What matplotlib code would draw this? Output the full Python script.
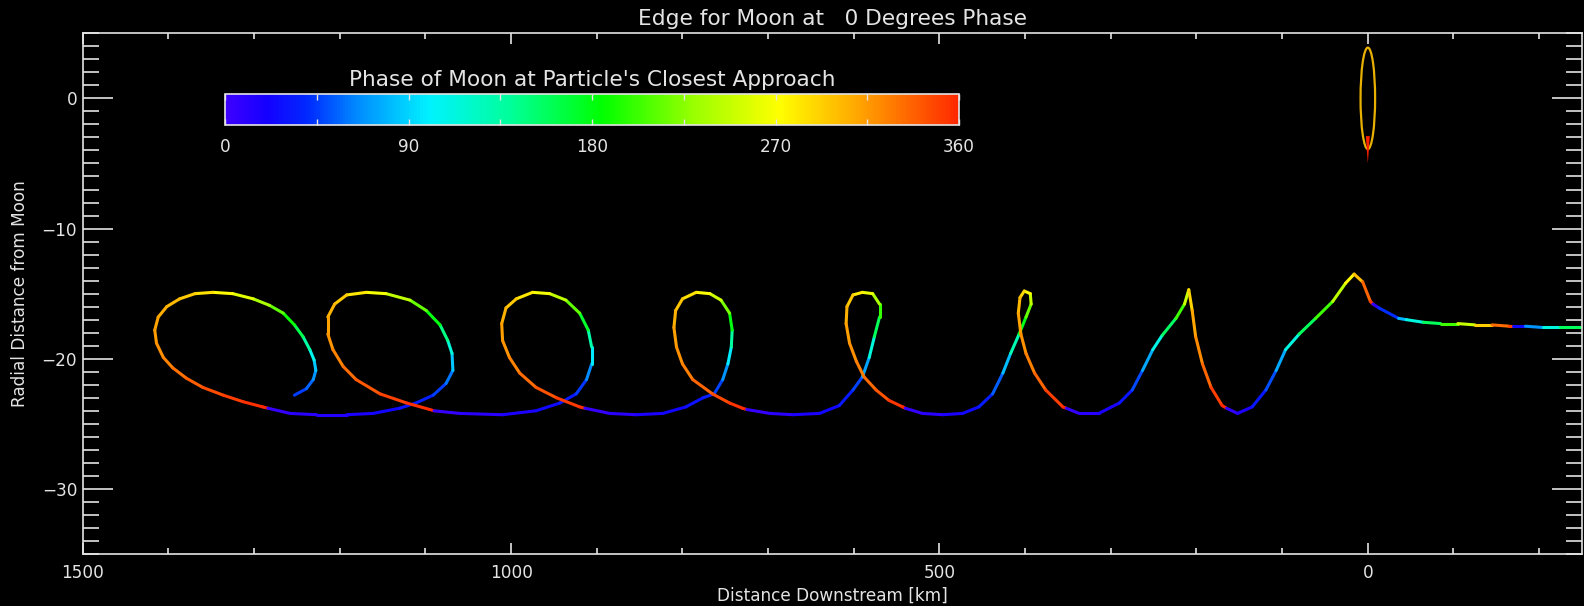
import numpy as np
import matplotlib
matplotlib.use("Agg")
import matplotlib.pyplot as plt
from matplotlib.collections import LineCollection
from matplotlib.colors import LinearSegmentedColormap, Normalize
from matplotlib.cm import ScalarMappable
from matplotlib.patches import Ellipse, Polygon
from matplotlib.ticker import MultipleLocator

# particle path: km downstream, radial distance, moon phase (deg)
path_x = [
    # first (widest) loop
    1253, 1239, 1231, 1228, 1230, 1235, 1243, 1253, 1266, 1282, 1301, 1325, 1348, 1369, 1387, 1402, 1412, 1416, 1414, 1406,
    1395, 1379, 1360, 1336, 1313, 1290, 1284, 1258, 1227, 1192, 1161, 1130, 1111, 1091, 1076, 1068, 1069, 1074, 1083, 1099,
    1118, 1146, 1169, 1192, 1206, 1214, 1214, 1208, 1196, 1181, 1153, 1122, 1095, 1090, 1060,
    # third loop
    1010, 971, 943, 924, 912, 906, 906, 910, 920, 936, 955, 975, 994, 1006, 1011, 1010, 1002, 990, 971, 947, 920, 914,
    # fourth loop
    885, 854, 823, 796, 776, 763, 753, 747, 743, 742, 745, 755, 768, 784, 800, 808, 810, 807, 800, 788, 765, 745, 730, 725,
    # fifth loop
    698, 671, 640, 617, 601, 590, 582, 576, 570, 570, 578, 590, 601, 608, 609, 605, 597, 588, 574, 559, 543, 540,
    # small loop
    520, 496, 473, 454, 438, 426, 417, 407, 399, 393, 394, 401, 406, 408, 405, 399, 389, 376, 356, 352,
    # cusp
    337, 314, 290, 275, 263, 251, 240, 224, 214, 209, 205, 201, 193, 183, 170, 165,
    # last hump and the flat part past the moon
    152, 135, 119, 107, 96, 80, 61, 41, 26, 16, 6, -3, -6, -13, -36, -45, -65, -85, -105, -125,
    -145, -165, -170, -184, -204, -224, -248,
]
path_y = [
    -22.8, -22.3, -21.6, -20.9, -20.1, -19.3, -18.3, -17.4, -16.5, -15.9, -15.4, -15.0, -14.9, -15.0, -15.4, -16.0, -16.8, -17.8, -18.8, -19.9,
    -20.7, -21.5, -22.2, -22.8, -23.3, -23.7, -23.8, -24.2, -24.3, -24.3, -24.2, -23.8, -23.4, -22.8, -21.9, -20.9, -19.6, -18.6, -17.4, -16.3,
    -15.5, -15.0, -14.9, -15.1, -15.8, -16.8, -18.1, -19.3, -20.6, -21.6, -22.7, -23.4, -23.9, -24.0, -24.2,
    -24.3, -24.0, -23.4, -22.7, -21.6, -20.4, -19.1, -17.8, -16.5, -15.5, -15.0, -14.9, -15.4, -16.1, -17.3, -18.6, -19.9, -21.1, -22.2, -23.0, -23.7, -23.8,
    -24.2, -24.3, -24.2, -23.7, -23.0, -22.7, -21.6, -20.4, -19.1, -17.8, -16.5, -15.5, -15.0, -14.9, -15.4, -16.3, -17.6, -19.1, -20.4, -21.6, -22.7, -23.4, -23.8, -23.9,
    -24.2, -24.3, -24.2, -23.6, -22.4, -21.4, -19.9, -18.3, -16.8, -15.8, -15.0, -14.9, -15.1, -16.0, -17.3, -18.8, -20.2, -21.4, -22.4, -23.2, -23.7, -23.8,
    -24.2, -24.3, -24.2, -23.7, -22.7, -21.1, -19.6, -18.1, -16.8, -15.8, -15.0, -14.8, -15.3, -16.5, -18.1, -19.6, -21.1, -22.4, -23.7, -23.8,
    -24.2, -24.2, -23.4, -22.4, -20.9, -19.3, -18.2, -16.9, -15.8, -14.7, -16.3, -18.3, -20.4, -22.2, -23.6, -23.8,
    -24.2, -23.7, -22.4, -20.9, -19.3, -18.1, -16.9, -15.6, -14.2, -13.5, -14.1, -15.6, -15.8, -16.1, -16.9, -17.0, -17.2, -17.3, -17.3, -17.4,
    -17.4, -17.5, -17.5, -17.5, -17.6, -17.6, -17.6,
]
path_phase = [
    40, 50, 60, 75, 95, 120, 150, 175, 200, 225, 250, 268, 280, 290, 298, 305, 310, 313, 316, 320,
    328, 335, 342, 348, 354, 359, 3, 8, 12, 16, 20, 26, 32, 40, 50, 70, 100, 130, 165, 200,
    230, 260, 275, 288, 300, 308, 314, 320, 328, 336, 345, 353, 359, 3, 8,
    14, 20, 28, 38, 50, 80, 115, 150, 195, 230, 260, 275, 290, 302, 310, 315, 320, 328, 338, 348, 356, 3,
    8, 14, 20, 26, 33, 40, 55, 80, 115, 160, 200, 240, 262, 278, 292, 303, 310, 315, 322, 330, 342, 352, 359, 3,
    8, 14, 20, 27, 40, 55, 90, 140, 180, 220, 255, 272, 290, 303, 310, 316, 322, 330, 338, 348, 359, 3,
    8, 14, 20, 28, 42, 65, 100, 160, 195, 235, 262, 280, 298, 308, 315, 322, 330, 342, 359, 3,
    8, 14, 22, 38, 60, 90, 130, 180, 225, 275, 305, 315, 328, 342, 359, 3,
    10, 22, 40, 60, 90, 135, 180, 225, 262, 285, 315, 355, 3, 15, 68, 90, 135, 180, 225, 270,
    315, 350, 5, 45, 90, 135, 180,
]

# the moon outline and the small red wedge under it
moon_x = 0
moon_y = 0
moon_width = 17
moon_height = 7.8
tail_x = [-2.3, 2.3, 0]
tail_y = [-2.9, -2.9, -5.0]

fg = "#E4E4E4"

# rainbow table like the IDL one used for the phase
cmap = LinearSegmentedColormap.from_list("phase", [
    (0 / 360, (0.24, 0.0, 1.0)),
    (20 / 360, (0.08, 0.0, 1.0)),
    (40 / 360, (0.0, 0.16, 1.0)),
    (65 / 360, (0.0, 0.55, 1.0)),
    (100 / 360, (0.0, 0.95, 1.0)),
    (140 / 360, (0.0, 1.0, 0.6)),
    (185 / 360, (0.0, 1.0, 0.0)),
    (230 / 360, (0.6, 1.0, 0.0)),
    (272 / 360, (1.0, 1.0, 0.0)),
    (310 / 360, (1.0, 0.66, 0.0)),
    (360 / 360, (1.0, 0.16, 0.0)),
])
norm = Normalize(0, 360)

fig = plt.figure(figsize=(15.84, 6.06), dpi=100, facecolor="black")
ax = fig.add_axes([82.8 / 1584, 1 - 554 / 606, (1582 - 82.8) / 1584, (554 - 33.3) / 606])
ax.set_facecolor("black")

# colour each piece of the path by phase, no blending across the 360 -> 0 wrap
pts = np.column_stack([path_x, path_y])
segs = np.stack([pts[:-1], pts[1:]], axis=1)
p0 = np.array(path_phase[:-1], dtype=float)
p1 = np.array(path_phase[1:], dtype=float)
seg_phase = np.where(np.abs(p1 - p0) < 180, (p0 + p1) / 2, p0)
lc = LineCollection(segs, cmap=cmap, norm=norm, linewidths=2.2, capstyle="round", joinstyle="round")
lc.set_array(seg_phase)
ax.add_collection(lc)

ax.add_patch(Ellipse((moon_x, moon_y), moon_width, moon_height, fill=False, edgecolor="#E8B000", lw=1.6, zorder=3))
ax.add_patch(Polygon(np.column_stack([tail_x, tail_y]), closed=True, facecolor="#FF2000", edgecolor="none", zorder=4))

ax.set_xlim(1500, -250)
ax.set_ylim(-35, 5)
ax.xaxis.set_major_locator(MultipleLocator(500))
ax.xaxis.set_minor_locator(MultipleLocator(100))
ax.yaxis.set_major_locator(MultipleLocator(10))
ax.yaxis.set_minor_locator(MultipleLocator(1))
ax.tick_params(axis="both", which="both", direction="in", top=True, right=True,
               color=fg, labelcolor=fg, labelsize=12.2, width=1.2)
ax.tick_params(axis="x", which="major", length=7.9, pad=7)
ax.tick_params(axis="x", which="minor", length=4.3)
ax.tick_params(axis="y", which="major", length=21.6, pad=4)
ax.tick_params(axis="y", which="minor", length=11.5)
for s in ax.spines.values():
    s.set_color(fg)
    s.set_linewidth(1.2)

ax.set_title("Edge for Moon at   0 Degrees Phase", color=fg, fontsize=15.6, pad=6)
ax.set_xlabel("Distance Downstream [km]", color=fg, fontsize=12.2)
ax.xaxis.set_label_coords(0.5, -0.062)
ax.set_ylabel("Radial Distance from Moon", color=fg, fontsize=12.2)
ax.yaxis.set_label_coords(-0.036, 0.5)

# colour bar sitting inside the plot
cax = fig.add_axes([225 / 1584, 1 - 125 / 606, 734 / 1584, 31 / 606])
cb = fig.colorbar(ScalarMappable(norm=norm, cmap=cmap), cax=cax, orientation="horizontal")
cb.outline.set_edgecolor(fg)
cb.outline.set_linewidth(1.2)
cb.set_ticks([0, 90, 180, 270, 360])
cax.xaxis.set_minor_locator(MultipleLocator(45))
cax.tick_params(which="both", direction="in", top=True, bottom=True, color=fg,
                labelcolor=fg, labelsize=12.2, length=4, width=1, pad=9)
cax.set_title("Phase of Moon at Particle's Closest Approach", color=fg, fontsize=15.6, pad=6)

fig.savefig("out.png", dpi=100, facecolor="black")
